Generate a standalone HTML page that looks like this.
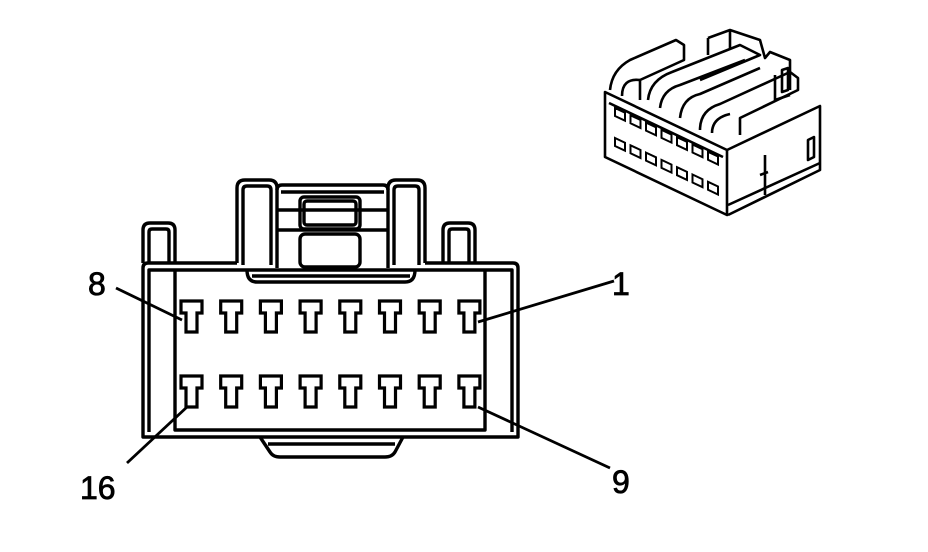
<!DOCTYPE html>
<html><head><style>
html,body{margin:0;padding:0;background:#fff;}
svg{display:block;}
text{font-family:"Liberation Sans",Arial,sans-serif;font-size:32px;fill:#000;stroke:#000;stroke-width:0.8px;}
</style></head><body>
<svg width="928" height="552" viewBox="0 0 928 552" xmlns="http://www.w3.org/2000/svg">
<g fill="none" stroke="#000" stroke-width="3.4" stroke-linejoin="round">
<!-- main body outer -->
<path d="M237,263 L148,263 Q143,263 143,268 L143,437 L518,437 L518,268 Q518,263 513,263 L425,263"/>
<path d="M149,432 L149,270 L512,270 L512,432"/>
<path d="M175,270 L175,430 L485,430 L485,270"/>
<!-- left post -->
<path d="M143,263 L143,230 Q143,223 150,223 L168,223 Q175,223 175,230 L175,263"/>
<path d="M149,263 L149,232 Q149,229 152,229 L166,229 Q169,229 169,232 L169,263"/>
<!-- right post -->
<path d="M443,263 L443,230 Q443,223 450,223 L468,223 Q475,223 475,230 L475,263"/>
<path d="M449,263 L449,232 Q449,229 452,229 L466,229 Q469,229 469,232 L469,263"/>
<!-- left latch -->
<path d="M237,263 L237,188 Q237,180 245,180 L269,180 Q277,180 277,188 L277,268"/>
<path d="M243,265 L243,190 Q243,186 247,186 L267,186 Q271,186 271,190 L271,265"/>
<!-- right latch -->
<path d="M388,268 L388,188 Q388,180 396,180 L417,180 Q425,180 425,188 L425,263"/>
<path d="M394,265 L394,190 Q394,186 398,186 L415,186 Q419,186 419,190 L419,265"/>
<!-- center block -->
<path d="M277,190 Q277,185 282,185 L383,185 Q388,185 388,190"/>
<path d="M281,192 L384,192"/>
<path d="M277,210 L388,210 M277,230 L388,230"/>
<rect x="300" y="197" width="60" height="32" rx="4"/>
<rect x="304" y="201" width="52" height="24" rx="3"/>
<rect x="300" y="234" width="60" height="33" rx="5"/>
<!-- bottom ledge under latches -->
<path d="M247,270 Q247,282 257,282 L405,282 Q415,282 415,270"/>
<path d="M252,276 L410,276"/>
<!-- bottom tab -->
<path d="M260,437 L270,452 Q273,457 280,457 L385,457 Q392,457 395,452 L403,437"/>
<path d="M268,444 L395,444"/>
</g>
<!-- terminals -->
<g fill="none" stroke="#000" stroke-width="3.2" stroke-linejoin="miter">
<g id="t"><path d="M181,301 L202,301 L202,313 L197,313 L197,332 L186,332 L186,313 L181,313 Z"/></g>
<use href="#t" x="39.7"/><use href="#t" x="79.4"/><use href="#t" x="119.1"/><use href="#t" x="158.8"/><use href="#t" x="198.5"/><use href="#t" x="238.2"/><use href="#t" x="277.9"/>
<use href="#t" y="75"/><use href="#t" x="39.7" y="75"/><use href="#t" x="79.4" y="75"/><use href="#t" x="119.1" y="75"/><use href="#t" x="158.8" y="75"/><use href="#t" x="198.5" y="75"/><use href="#t" x="238.2" y="75"/><use href="#t" x="277.9" y="75"/>
</g>
<!-- leaders -->
<g stroke="#000" stroke-width="2.8">
<line x1="116" y1="288" x2="182" y2="320"/>
<line x1="614" y1="281" x2="478" y2="322"/>
<line x1="127" y1="463" x2="187" y2="407"/>
<line x1="610" y1="468" x2="478" y2="407"/>
</g>
<text x="88" y="295">8</text>
<text x="612" y="295">1</text>
<text x="80" y="499">16</text>
<text x="612" y="493">9</text>
<!-- iso connector -->
<g fill="none" stroke="#000" stroke-width="2.6" stroke-linejoin="round">
<path d="M605,92 L727,150 L727,215 L605,157 Z"/>
<path d="M727,150 L820,106 L820,170 L728,215"/>
<path d="M609,103 L723,157"/>
<path d="M728,205 L820,163"/>
<path d="M765,155 L765,195 M760,175 L768,172"/>
<path d="M808,140 L808,160 L814,157 L814,137 Z"/>
<path d="M610,90 Q612,70 630,60 L676,40 L684,45 L684,60 L640,80 L640,100"/>
<path d="M622,96 Q622,78 640,80"/>
<path d="M648,100 Q650,80 672,72 L740,45 L760,55 L700,80"/>
<path d="M660,108 Q662,90 680,85 L745,60"/>
<path d="M680,118 Q682,98 700,94 L760,68"/>
<path d="M700,130 Q700,110 720,104 L790,72 L798,78 L798,90 L740,118 L740,135"/>
<path d="M712,133 Q712,118 730,114"/>
<path d="M708,38 L730,30 L760,40 L765,58 L770,52 L790,60 L790,90"/>
<path d="M708,38 L708,55 M730,30 L730,48"/>
<path d="M775,75 L775,100 L790,95"/>
<path d="M782,70 L782,92 L788,90 L788,68 Z"/>
</g>
<g fill="none" stroke="#000" stroke-width="2">
<path d="M615,108 l10,4.7 l0,8 l-10,-4.7 Z M630.5,115.3 l10,4.7 l0,8 l-10,-4.7 Z M646,122.6 l10,4.7 l0,8 l-10,-4.7 Z M661.5,129.9 l10,4.7 l0,8 l-10,-4.7 Z M677,137.2 l10,4.7 l0,8 l-10,-4.7 Z M692.5,144.5 l10,4.7 l0,8 l-10,-4.7 Z M708,151.8 l10,4.7 l0,8 l-10,-4.7 Z"/>
<path d="M615,138 l10,4.7 l0,8 l-10,-4.7 Z M630.5,145.3 l10,4.7 l0,8 l-10,-4.7 Z M646,152.6 l10,4.7 l0,8 l-10,-4.7 Z M661.5,159.9 l10,4.7 l0,8 l-10,-4.7 Z M677,167.2 l10,4.7 l0,8 l-10,-4.7 Z M692.5,174.5 l10,4.7 l0,8 l-10,-4.7 Z M708,181.8 l10,4.7 l0,8 l-10,-4.7 Z"/>
</g>
</svg>
</body></html>
